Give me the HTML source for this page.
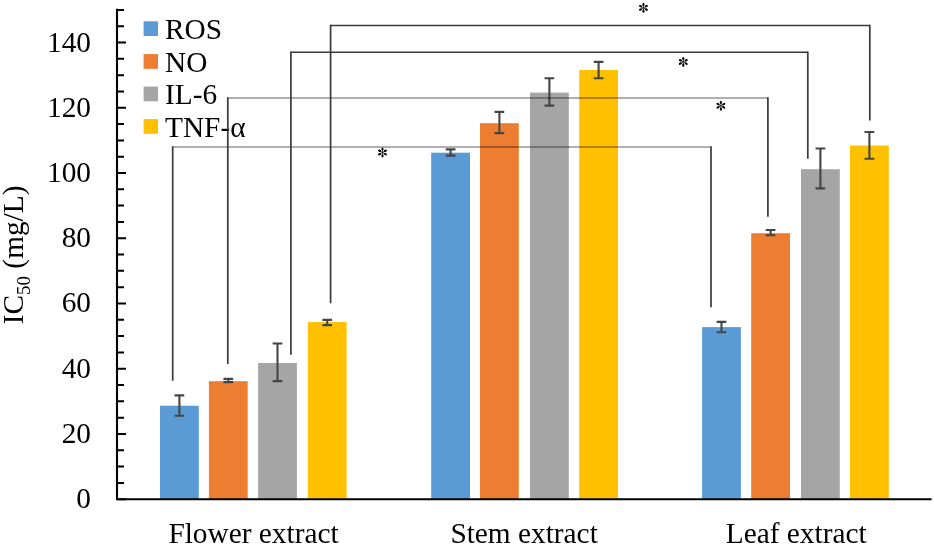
<!DOCTYPE html><html><head><meta charset="utf-8"><style>html,body{margin:0;padding:0;background:#fff;width:934px;height:546px;overflow:hidden;position:relative}</style></head><body><svg width="934" height="546" viewBox="0 0 934 546" style="position:absolute;left:0;top:0;will-change:transform"><rect x="160.0" y="405.7" width="38.8" height="93.5" fill="#5B9BD5"/><rect x="208.9" y="381.2" width="38.8" height="118.0" fill="#ED7D31"/><rect x="258.1" y="363.0" width="38.8" height="136.2" fill="#A5A5A5"/><rect x="307.8" y="322.1" width="38.8" height="177.09999999999997" fill="#FFC000"/><rect x="431.2" y="152.7" width="38.8" height="346.5" fill="#5B9BD5"/><rect x="480.0" y="123.2" width="38.8" height="376.0" fill="#ED7D31"/><rect x="530.0" y="92.6" width="38.8" height="406.6" fill="#A5A5A5"/><rect x="579.2" y="70.0" width="38.8" height="429.2" fill="#FFC000"/><rect x="702.1" y="327.1" width="38.8" height="172.09999999999997" fill="#5B9BD5"/><rect x="751.2" y="233.2" width="38.8" height="266.0" fill="#ED7D31"/><rect x="801.0" y="169.2" width="38.8" height="330.0" fill="#A5A5A5"/><rect x="850.0" y="145.5" width="38.8" height="353.7" fill="#FFC000"/><path d="M179.4 395.4V415.8M174.55 395.4H184.25M174.55 415.8H184.25" stroke="#454545" stroke-width="2.1" fill="none"/><path d="M228.3 378.9V382.1M223.45 378.9H233.15M223.45 382.1H233.15" stroke="#454545" stroke-width="2.1" fill="none"/><path d="M277.5 343.5V381.1M272.65 343.5H282.35M272.65 381.1H282.35" stroke="#454545" stroke-width="2.1" fill="none"/><path d="M327.2 319.9V325.1M322.35 319.9H332.05M322.35 325.1H332.05" stroke="#454545" stroke-width="2.1" fill="none"/><path d="M450.59999999999997 149.4V155.6M445.75 149.4H455.45M445.75 155.6H455.45" stroke="#454545" stroke-width="2.1" fill="none"/><path d="M499.4 111.9V133.1M494.55 111.9H504.25M494.55 133.1H504.25" stroke="#454545" stroke-width="2.1" fill="none"/><path d="M549.4 78.2V105.6M544.55 78.2H554.25M544.55 105.6H554.25" stroke="#454545" stroke-width="2.1" fill="none"/><path d="M598.6 61.9V78.2M593.75 61.9H603.45M593.75 78.2H603.45" stroke="#454545" stroke-width="2.1" fill="none"/><path d="M721.5 321.9V332.2M716.65 321.9H726.35M716.65 332.2H726.35" stroke="#454545" stroke-width="2.1" fill="none"/><path d="M770.6 230.0V235.3M765.75 230.0H775.45M765.75 235.3H775.45" stroke="#454545" stroke-width="2.1" fill="none"/><path d="M820.4 148.5V188.4M815.55 148.5H825.25M815.55 188.4H825.25" stroke="#454545" stroke-width="2.1" fill="none"/><path d="M869.4 132.0V158.8M864.55 132.0H874.25M864.55 158.8H874.25" stroke="#454545" stroke-width="2.1" fill="none"/><path d="M117 8.8V499.2H931.6" stroke="#000" stroke-width="2.1" fill="none"/><path d="M117 499.20H126M117 482.89H124M117 466.58H124M117 450.27H124M117 433.96H126M117 417.65H124M117 401.34H124M117 385.03H124M117 368.72H126M117 352.41H124M117 336.10H124M117 319.79H124M117 303.48H126M117 287.17H124M117 270.86H124M117 254.55H124M117 238.24H126M117 221.93H124M117 205.62H124M117 189.31H124M117 173.00H126M117 156.69H124M117 140.38H124M117 124.07H124M117 107.76H126M117 91.45H124M117 75.14H124M117 58.83H124M117 42.52H126M117 26.21H124M117 9.90H124" stroke="#000" stroke-width="2" fill="none"/><text x="91" y="508.20" text-anchor="end" font-family="Liberation Serif, serif" font-size="29.33">0</text><text x="91" y="442.96" text-anchor="end" font-family="Liberation Serif, serif" font-size="29.33">20</text><text x="91" y="377.72" text-anchor="end" font-family="Liberation Serif, serif" font-size="29.33">40</text><text x="91" y="312.48" text-anchor="end" font-family="Liberation Serif, serif" font-size="29.33">60</text><text x="91" y="247.24" text-anchor="end" font-family="Liberation Serif, serif" font-size="29.33">80</text><text x="91" y="182.00" text-anchor="end" font-family="Liberation Serif, serif" font-size="29.33">100</text><text x="91" y="116.76" text-anchor="end" font-family="Liberation Serif, serif" font-size="29.33">120</text><text x="91" y="51.52" text-anchor="end" font-family="Liberation Serif, serif" font-size="29.33">140</text><text x="253.5" y="543.4" text-anchor="middle" font-family="Liberation Serif, serif" font-size="29.33">Flower extract</text><text x="524.1" y="543.4" text-anchor="middle" font-family="Liberation Serif, serif" font-size="29.33">Stem extract</text><text x="796.2" y="543.4" text-anchor="middle" font-family="Liberation Serif, serif" font-size="29.33">Leaf extract</text><rect x="143.6" y="21.3" width="14.4" height="14.7" fill="#5B9BD5"/><text x="165" y="38.70" font-family="Liberation Serif, serif" font-size="29.33">ROS</text><rect x="143.6" y="54.1" width="14.4" height="14.7" fill="#ED7D31"/><text x="165" y="71.50" font-family="Liberation Serif, serif" font-size="29.33">NO</text><rect x="143.6" y="86.6" width="14.4" height="14.7" fill="#A5A5A5"/><text x="165" y="104.00" font-family="Liberation Serif, serif" font-size="29.33">IL-6</text><rect x="143.6" y="119.1" width="14.4" height="14.7" fill="#FFC000"/><text x="165" y="136.50" font-family="Liberation Serif, serif" font-size="29.33">TNF-α</text><path d="M172.7 147.0H711.0" stroke="#000" stroke-opacity="0.31" stroke-width="1.9" fill="none"/><path d="M172.7 380.8V146.2M711.0 307.2V146.2" stroke="#3a3a3a" stroke-width="1.7" fill="none"/><path d="M227.8 98.0H767.9" stroke="#000" stroke-opacity="0.31" stroke-width="1.9" fill="none"/><path d="M227.8 364.0V97.2M767.9 216.7V97.2" stroke="#3a3a3a" stroke-width="1.7" fill="none"/><path d="M290.9 52.2H807.8" stroke="#383838" stroke-width="1.5" fill="none"/><path d="M290.9 354.7V51.400000000000006M807.8 158.8V51.400000000000006" stroke="#3a3a3a" stroke-width="1.7" fill="none"/><path d="M330.6 25.6H869.8" stroke="#383838" stroke-width="1.5" fill="none"/><path d="M330.6 303.3V24.8M869.8 120.5V24.8" stroke="#3a3a3a" stroke-width="1.7" fill="none"/><g fill="#000"><ellipse cx="382.50" cy="149.05" rx="1.65" ry="1.1" transform="rotate(-90 382.50 149.05)"/><path d="M382.50 152.40L382.50 149.05" stroke="#000" stroke-width="0.7"/><ellipse cx="379.60" cy="150.72" rx="1.65" ry="1.1" transform="rotate(-150 379.60 150.72)"/><path d="M382.50 152.40L379.60 150.72" stroke="#000" stroke-width="0.7"/><ellipse cx="379.60" cy="154.08" rx="1.65" ry="1.1" transform="rotate(-210 379.60 154.08)"/><path d="M382.50 152.40L379.60 154.08" stroke="#000" stroke-width="0.7"/><ellipse cx="382.50" cy="155.75" rx="1.65" ry="1.1" transform="rotate(-270 382.50 155.75)"/><path d="M382.50 152.40L382.50 155.75" stroke="#000" stroke-width="0.7"/><ellipse cx="385.40" cy="154.08" rx="1.65" ry="1.1" transform="rotate(-330 385.40 154.08)"/><path d="M382.50 152.40L385.40 154.08" stroke="#000" stroke-width="0.7"/><ellipse cx="385.40" cy="150.72" rx="1.65" ry="1.1" transform="rotate(-390 385.40 150.72)"/><path d="M382.50 152.40L385.40 150.72" stroke="#000" stroke-width="0.7"/></g><g fill="#000"><ellipse cx="720.90" cy="102.40" rx="1.65" ry="1.1" transform="rotate(-90 720.90 102.40)"/><path d="M720.90 105.75L720.90 102.40" stroke="#000" stroke-width="0.7"/><ellipse cx="718.00" cy="104.08" rx="1.65" ry="1.1" transform="rotate(-150 718.00 104.08)"/><path d="M720.90 105.75L718.00 104.08" stroke="#000" stroke-width="0.7"/><ellipse cx="718.00" cy="107.42" rx="1.65" ry="1.1" transform="rotate(-210 718.00 107.42)"/><path d="M720.90 105.75L718.00 107.42" stroke="#000" stroke-width="0.7"/><ellipse cx="720.90" cy="109.10" rx="1.65" ry="1.1" transform="rotate(-270 720.90 109.10)"/><path d="M720.90 105.75L720.90 109.10" stroke="#000" stroke-width="0.7"/><ellipse cx="723.80" cy="107.42" rx="1.65" ry="1.1" transform="rotate(-330 723.80 107.42)"/><path d="M720.90 105.75L723.80 107.42" stroke="#000" stroke-width="0.7"/><ellipse cx="723.80" cy="104.08" rx="1.65" ry="1.1" transform="rotate(-390 723.80 104.08)"/><path d="M720.90 105.75L723.80 104.08" stroke="#000" stroke-width="0.7"/></g><g fill="#000"><ellipse cx="683.30" cy="58.55" rx="1.65" ry="1.1" transform="rotate(-90 683.30 58.55)"/><path d="M683.30 61.90L683.30 58.55" stroke="#000" stroke-width="0.7"/><ellipse cx="680.40" cy="60.23" rx="1.65" ry="1.1" transform="rotate(-150 680.40 60.23)"/><path d="M683.30 61.90L680.40 60.23" stroke="#000" stroke-width="0.7"/><ellipse cx="680.40" cy="63.57" rx="1.65" ry="1.1" transform="rotate(-210 680.40 63.57)"/><path d="M683.30 61.90L680.40 63.57" stroke="#000" stroke-width="0.7"/><ellipse cx="683.30" cy="65.25" rx="1.65" ry="1.1" transform="rotate(-270 683.30 65.25)"/><path d="M683.30 61.90L683.30 65.25" stroke="#000" stroke-width="0.7"/><ellipse cx="686.20" cy="63.58" rx="1.65" ry="1.1" transform="rotate(-330 686.20 63.58)"/><path d="M683.30 61.90L686.20 63.58" stroke="#000" stroke-width="0.7"/><ellipse cx="686.20" cy="60.23" rx="1.65" ry="1.1" transform="rotate(-390 686.20 60.23)"/><path d="M683.30 61.90L686.20 60.23" stroke="#000" stroke-width="0.7"/></g><g fill="#000"><ellipse cx="643.45" cy="4.50" rx="1.65" ry="1.1" transform="rotate(-90 643.45 4.50)"/><path d="M643.45 7.85L643.45 4.50" stroke="#000" stroke-width="0.7"/><ellipse cx="640.55" cy="6.17" rx="1.65" ry="1.1" transform="rotate(-150 640.55 6.17)"/><path d="M643.45 7.85L640.55 6.17" stroke="#000" stroke-width="0.7"/><ellipse cx="640.55" cy="9.53" rx="1.65" ry="1.1" transform="rotate(-210 640.55 9.53)"/><path d="M643.45 7.85L640.55 9.53" stroke="#000" stroke-width="0.7"/><ellipse cx="643.45" cy="11.20" rx="1.65" ry="1.1" transform="rotate(-270 643.45 11.20)"/><path d="M643.45 7.85L643.45 11.20" stroke="#000" stroke-width="0.7"/><ellipse cx="646.35" cy="9.53" rx="1.65" ry="1.1" transform="rotate(-330 646.35 9.53)"/><path d="M643.45 7.85L646.35 9.53" stroke="#000" stroke-width="0.7"/><ellipse cx="646.35" cy="6.17" rx="1.65" ry="1.1" transform="rotate(-390 646.35 6.17)"/><path d="M643.45 7.85L646.35 6.17" stroke="#000" stroke-width="0.7"/></g><text transform="translate(23.4,324.3) rotate(-90)" font-family="Liberation Serif, serif" font-size="29.33">IC<tspan font-size="19" dy="6.4">50</tspan><tspan dy="-6.4"> (mg/L)</tspan></text></svg></body></html>
